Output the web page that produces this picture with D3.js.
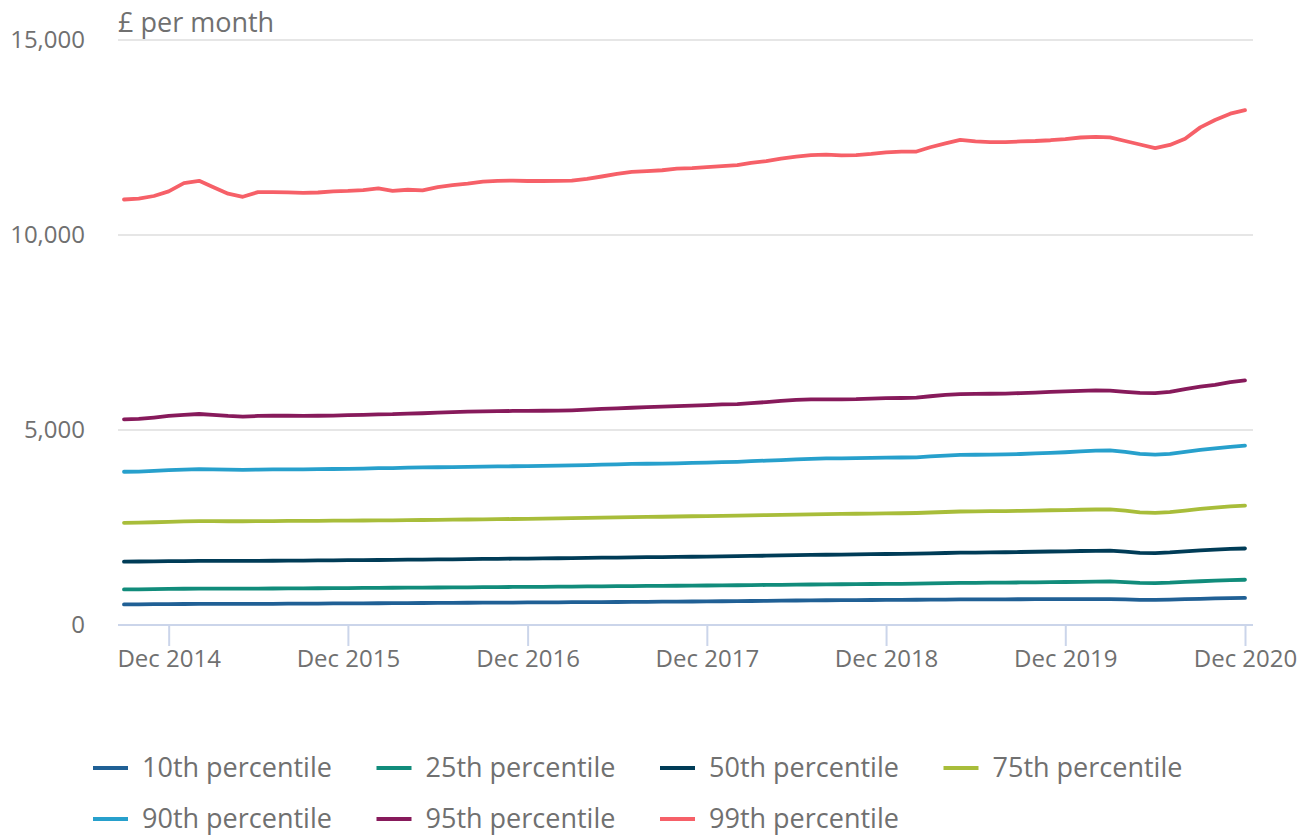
<!DOCTYPE html>
<html>
<head>
<meta charset="utf-8">
<script src="https://cdn.jsdelivr.net/npm/d3@7"></script>
<style>
  body { margin: 0; background: #fff; }
  svg text { font-family: "Open Sans", sans-serif; fill: #707070; }
</style>
</head>
<body>
<svg class="chart" width="1309" height="837"></svg>
<script>
// monthly, Sep 2014 - Dec 2020
var startMonth = new Date(2014, 8, 1);
var tickLabels = ["Dec 2014", "Dec 2015", "Dec 2016", "Dec 2017", "Dec 2018", "Dec 2019", "Dec 2020"];
var yTicks = [0, 5000, 10000, 15000];

var p10 = [527, 530, 533, 536, 539, 542, 542, 541, 541, 542, 544, 546, 548, 550, 552, 554, 556, 558, 560, 562,
  564, 566, 568, 570, 572, 574, 576, 578, 580, 582, 584, 586, 588, 590, 592, 594, 597, 600, 603, 606,
  609, 612, 616, 620, 624, 628, 632, 635, 637, 639, 641, 643, 645, 647, 650, 653, 656, 657, 658, 659,
  660, 661, 662, 663, 664, 665, 665, 655, 645, 645, 652, 662, 672, 682, 690, 695];
var p25 = [912, 915, 920, 925, 930, 935, 935, 933, 932, 934, 936, 938, 940, 942, 945, 947, 950, 952, 955, 957,
  960, 962, 965, 967, 970, 972, 975, 977, 980, 983, 986, 989, 992, 995, 998, 1001, 1004, 1007, 1010, 1013,
  1016, 1019, 1023, 1027, 1031, 1035, 1039, 1042, 1045, 1048, 1051, 1054, 1057, 1060, 1066, 1072, 1078, 1081, 1084, 1087,
  1091, 1095, 1099, 1103, 1108, 1113, 1118, 1098, 1080, 1075, 1085, 1105, 1122, 1138, 1150, 1160];
var p50 = [1625, 1628, 1632, 1636, 1640, 1645, 1645, 1643, 1643, 1645, 1647, 1650, 1652, 1655, 1658, 1661, 1664, 1667, 1670, 1674,
  1678, 1681, 1685, 1689, 1693, 1697, 1700, 1704, 1708, 1712, 1716, 1720, 1725, 1729, 1734, 1738, 1742, 1746, 1750, 1755,
  1760, 1765, 1771, 1777, 1783, 1790, 1796, 1801, 1805, 1810, 1815, 1820, 1825, 1830, 1838, 1846, 1854, 1858, 1862, 1866,
  1872, 1878, 1884, 1890, 1897, 1903, 1908, 1880, 1850, 1845, 1862, 1890, 1915, 1935, 1950, 1962];
var p75 = [2620, 2625, 2635, 2645, 2655, 2665, 2665, 2660, 2660, 2662, 2665, 2668, 2670, 2672, 2675, 2678, 2680, 2683, 2685, 2688,
  2692, 2696, 2700, 2705, 2710, 2715, 2718, 2722, 2727, 2732, 2738, 2745, 2752, 2758, 2764, 2770, 2776, 2782, 2788, 2793,
  2798, 2803, 2810, 2818, 2825, 2832, 2838, 2843, 2848, 2853, 2858, 2862, 2866, 2872, 2885, 2898, 2910, 2914, 2918, 2922,
  2928, 2935, 2942, 2948, 2955, 2962, 2965, 2930, 2890, 2875, 2895, 2935, 2975, 3010, 3040, 3060];
var p90 = [3930, 3935, 3950, 3970, 3985, 3995, 3990, 3985, 3980, 3985, 3990, 3990, 3990, 3995, 4000, 4005, 4012, 4020, 4025, 4035,
  4040, 4045, 4050, 4055, 4060, 4065, 4070, 4075, 4080, 4085, 4095, 4100, 4110, 4120, 4130, 4135, 4140, 4145, 4155, 4165,
  4175, 4185, 4200, 4215, 4230, 4245, 4260, 4270, 4275, 4280, 4285, 4290, 4295, 4300, 4325, 4345, 4360, 4365, 4370, 4375,
  4385, 4400, 4415, 4430, 4450, 4470, 4480, 4440, 4390, 4370, 4390, 4440, 4490, 4530, 4570, 4600];
var p95 = [5275, 5285, 5320, 5360, 5390, 5410, 5390, 5360, 5345, 5360, 5365, 5365, 5360, 5365, 5370, 5380, 5390, 5400, 5405, 5420,
  5430, 5445, 5460, 5470, 5478, 5482, 5488, 5490, 5493, 5498, 5505, 5520, 5540, 5555, 5570, 5585, 5600, 5610, 5625, 5640,
  5655, 5665, 5690, 5715, 5745, 5770, 5785, 5785, 5785, 5790, 5805, 5815, 5820, 5830, 5865, 5900, 5920, 5925, 5930, 5935,
  5945, 5960, 5975, 5990, 6005, 6015, 6010, 5980, 5950, 5945, 5975, 6050, 6110, 6160, 6230, 6270];
var p99 = [10910, 10935, 11000, 11120, 11330, 11390, 11230, 11060, 10980, 11100, 11100, 11095, 11080, 11090, 11120, 11130, 11150, 11195, 11130, 11160,
  11145, 11230, 11280, 11320, 11370, 11390, 11395, 11385, 11385, 11390, 11395, 11440, 11500, 11570, 11620, 11640, 11660, 11700, 11715, 11740,
  11765, 11790, 11850, 11895, 11960, 12010, 12050, 12060, 12040, 12050, 12080, 12120, 12140, 12140, 12250, 12350, 12440, 12400, 12380, 12380,
  12400, 12410, 12430, 12460, 12500, 12515, 12505, 12410, 12320, 12230, 12310, 12470, 12760, 12950, 13110, 13200];

var seriesNames = ["10th percentile", "25th percentile", "50th percentile", "75th percentile",
  "90th percentile", "95th percentile", "99th percentile"];
var seriesValues = [p10, p25, p50, p75, p90, p95, p99];
var colors = ["#206095", "#118c7b", "#003c57", "#a8bd3a", "#27a0cc", "#871a5b", "#f66068"];

var svg = d3.select(".chart");

var months = p10.map(function(d, i) { return d3.timeMonth.offset(startMonth, i); });

var x = d3.scaleTime()
    .domain([months[0], months[months.length - 1]])
    .range([124, 1245]);

var y = d3.scaleLinear()
    .domain([0, 15000])
    .range([625, 40]);

// gridlines
svg.append("g").selectAll("line")
    .data(yTicks.filter(function(d) { return d > 0; }))
    .enter().append("line")
    .attr("x1", 118).attr("x2", 1253)
    .attr("y1", function(d) { return y(d); })
    .attr("y2", function(d) { return y(d); })
    .attr("stroke", "#e6e6e6")
    .attr("stroke-width", 2);

// y labels
svg.append("g").selectAll("text")
    .data(yTicks)
    .enter().append("text")
    .attr("x", 85)
    .attr("y", function(d) { return y(d); })
    .attr("dy", ".35em")
    .attr("text-anchor", "end")
    .style("font-size", "24px")
    .text(function(d) { return d3.format(",")(d); });

svg.append("text")
    .attr("x", 118)
    .attr("y", 32)
    .style("font-size", "27px")
    .text("£ per month");

// x axis
var decTicks = tickLabels.map(function(d, i) { return new Date(2014 + i, 11, 1); });

var xAxis = d3.axisBottom(x)
    .tickValues(decTicks)
    .tickSize(21)
    .tickPadding(4)
    .tickFormat(function(d, i) { return tickLabels[i]; });

var gx = svg.append("g")
    .attr("transform", "translate(0," + y(0) + ")")
    .call(xAxis);
gx.select(".domain").remove();
gx.selectAll(".tick line").attr("stroke", "#cbd5ea").attr("stroke-width", 2);
gx.selectAll(".tick text")
    .style("font-size", "24px")
    .style("font-family", "'Open Sans', sans-serif")
    .attr("fill", "#707070");
gx.append("line")
    .attr("x1", 118).attr("x2", 1253)
    .attr("stroke", "#cbd5ea")
    .attr("stroke-width", 2);

// lines
var line = d3.line()
    .x(function(d, i) { return x(months[i]); })
    .y(function(d) { return y(d); });

svg.append("g").selectAll("path")
    .data(seriesValues)
    .enter().append("path")
    .attr("d", line)
    .attr("fill", "none")
    .attr("stroke", function(d, i) { return colors[i]; })
    .attr("stroke-width", 3.8)
    .attr("stroke-linejoin", "round")
    .attr("stroke-linecap", "round");

// legend
var legend = svg.append("g").selectAll("g")
    .data(seriesNames)
    .enter().append("g")
    .attr("transform", function(d, i) {
        return "translate(" + (93 + (i % 4) * 283.5) + "," + (768 + Math.floor(i / 4) * 51) + ")";
    });

legend.append("line")
    .attr("x1", 0).attr("x2", 35)
    .attr("stroke", function(d, i) { return colors[i]; })
    .attr("stroke-width", 4);

legend.append("text")
    .attr("x", 49)
    .attr("dy", ".35em")
    .style("font-size", "27px")
    .text(function(d) { return d; });
</script>
</body>
</html>
